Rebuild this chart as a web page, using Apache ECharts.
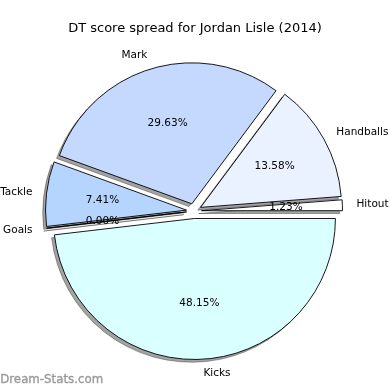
<!DOCTYPE html>
<html><head><meta charset="utf-8">
<script src="https://cdn.jsdelivr.net/npm/echarts@6/dist/echarts.min.js"></script>
<style>html,body{margin:0;padding:0;background:#fff}#c{width:390px;height:390px}</style>
</head><body><div id="c"></div>
<script>
var categories = ['Hitout', 'Handballs', 'Mark', 'Tackle', 'Goals', 'Kicks'];
var values = [1, 11, 24, 6, 0, 39];
var colors = ['#FFFFFF', '#EAF1FF', '#C5D9FF', '#B5D5FF', '#C8E4FF', '#D9FFFF'];
var titleText = 'DT score spread for Jordan Lisle (2014)';
var watermark = 'Dream-Stats.com';

var total = values.reduce(function (a, b) { return a + b; }, 0);
var R = 141, cx = 194, cy = 211, off = 7.5, sh = 2.8;
var font = 'DejaVu Sans';

function mk(kind) {
  return categories.map(function (n, i) {
    var st;
    if (kind === 'inner') st = { color: 'rgba(0,0,0,0)', borderWidth: 0 };
    else if (kind === 'shadow') st = { color: 'rgba(0,0,0,0.36)', borderColor: 'rgba(0,0,0,0.36)', borderWidth: 0.9 };
    else st = { color: colors[i] };
    return { name: n, value: values[i], selected: true, itemStyle: st };
  });
}

var common = { type: 'pie', startAngle: 0, clockwise: false, selectedMode: 'multiple',
  selectedOffset: off, avoidLabelOverlap: false, silent: true, stillShowZeroSum: true,
  minShowLabelAngle: 0, emphasis: { disabled: true } };

var chart = echarts.init(document.getElementById('c'), null, { renderer: 'canvas' });
chart.setOption({
  animation: false,
  title: { text: titleText, left: 'center', top: 17,
    textStyle: { fontFamily: font, fontSize: 13, fontWeight: 'normal', color: '#000' } },
  graphic: [{ type: 'text', left: 0, top: 374,
    style: { text: watermark, fontFamily: font, fontSize: 11.8, fontWeight: 'normal', fill: '#999999',
      stroke: '#aaaaaa', lineWidth: 0.4 } }],
  series: [
    Object.assign({}, common, { center: [cx - sh, cy + sh], radius: [0, R],
      label: { show: false }, labelLine: { show: false }, data: mk('shadow') }),
    Object.assign({}, common, { center: [cx, cy], radius: [0, R],
      itemStyle: { borderColor: '#000', borderWidth: 0.9 },
      label: { show: true, position: 'outside', distanceToLabelLine: 0,
        fontFamily: font, fontSize: 10.5, color: '#000', formatter: '{b}' },
      labelLine: { show: false, length: R * 0.1, length2: 0 },
      data: mk('main') }),
    Object.assign({}, common, { center: [cx, cy], radius: [0, R * 1.2 - 6],
      label: { show: true, position: 'inside', fontFamily: font, fontSize: 10.5, color: '#000',
        formatter: function (p) { return (p.value / total * 100).toFixed(2) + '%'; } },
      labelLine: { show: false },
      data: mk('inner') })
  ]
});
</script></body></html>
